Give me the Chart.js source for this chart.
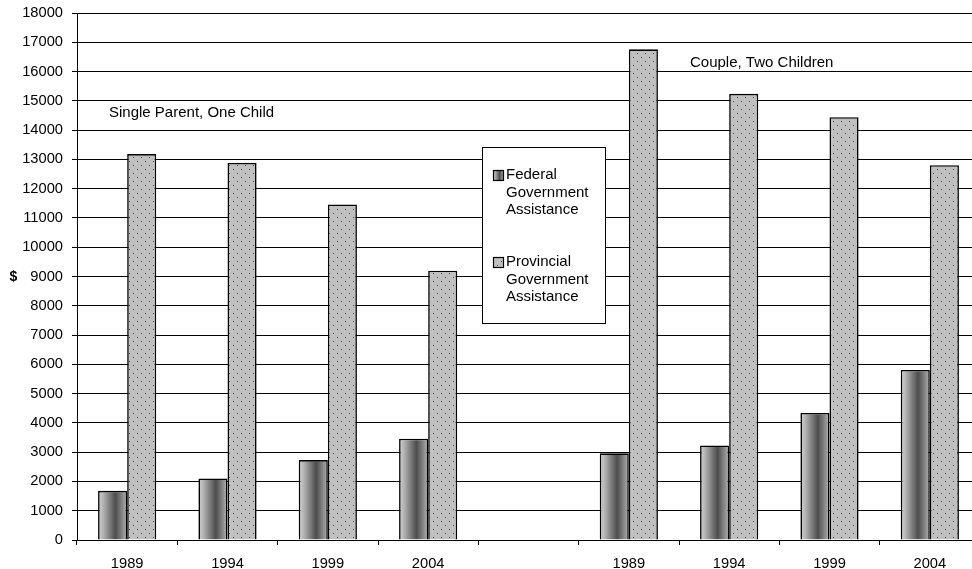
<!DOCTYPE html>
<html>
<head>
<meta charset="utf-8">
<script src="https://cdn.jsdelivr.net/npm/chart.js@4/dist/chart.umd.min.js"></script>
<style>
  html, body { margin: 0; padding: 0; background: #fff; overflow: hidden; }
  canvas { display: block; }
</style>
</head>
<body>
<canvas id="c" width="985" height="569"></canvas>
<script>
// Annual assistance by household type and year
const categories = ['1989', '1994', '1999', '2004', '', '1989', '1994', '1999', '2004'];
const federal    = [1680, 2100, 2730, 3460, null, 2960, 3230, 4340, 5810];
const provincial = [13180, 12880, 11460, 9200, null, 16760, 15240, 14440, 12800];
const seriesLines = [
  ['Federal', 'Government', 'Assistance'],
  ['Provincial', 'Government', 'Assistance']
];
const groupLabels = ['Single Parent, One Child', 'Couple, Two Children'];
const yTitle = '$';
const yMin = 0, yMax = 18000, yStep = 1000;

const FONT = '"Liberation Sans", Arial, Helvetica, sans-serif';
const CAT_PCT = 0.58;

// Dotted grey fill for the provincial bars
function dotPattern(ctx) {
  const t = document.createElement('canvas');
  t.width = 8; t.height = 8;
  const g = t.getContext('2d');
  g.fillStyle = '#c0c0c0';
  g.fillRect(0, 0, 8, 8);
  g.fillStyle = '#8b1a8b';
  g.fillRect(1, 1, 1, 1);
  g.fillRect(5, 5, 1, 1);
  return ctx.createPattern(t, 'repeat');
}

// Shaded cylinder-like gradient for the federal bars
function shade(ctx, x0, x1) {
  const g = ctx.createLinearGradient(x0, 0, x1, 0);
  g.addColorStop(0, '#d0d0d0');
  g.addColorStop(0.15, '#b8b8b8');
  g.addColorStop(0.6, '#4d4d4d');
  g.addColorStop(0.85, '#8c8c8c');
  g.addColorStop(1, '#b4b4b4');
  return g;
}

function federalFill(c) {
  const chart = c.chart;
  const xs = chart.scales && chart.scales.x;
  if (!xs || c.dataIndex === undefined || !xs.width) return '#808080';
  const slot = xs.width / categories.length;
  const w = slot * CAT_PCT / 2;
  const cx = xs.getPixelForValue(c.dataIndex) - w / 2;
  return shade(chart.ctx, cx - w / 2, cx + w / 2);
}

const canvas = document.getElementById('c');
const ctx2d = canvas.getContext('2d');
const dots = dotPattern(ctx2d);

const overlay = {
  id: 'overlay',
  afterDraw(chart) {
    const ctx = chart.ctx;
    const area = chart.chartArea;
    ctx.save();
    ctx.fillStyle = '#000';
    ctx.textBaseline = 'middle';
    ctx.textAlign = 'left';

    // group captions
    ctx.font = '15px ' + FONT;
    ctx.fillText(groupLabels[0], 109, 113);
    ctx.fillText(groupLabels[1], 690, 63);

    // axis unit
    ctx.font = 'bold 14px ' + FONT;
    ctx.textAlign = 'center';
    ctx.fillText(yTitle, 13.5, (area.top + area.bottom) / 2 + 1);

    // legend box
    const bx = 482, by = 147, bw = 123, bh = 176;
    ctx.fillStyle = '#fff';
    ctx.fillRect(bx, by, bw, bh);
    ctx.strokeStyle = '#000';
    ctx.lineWidth = 1;
    ctx.strokeRect(bx + 0.5, by + 0.5, bw, bh);

    ctx.font = '15px ' + FONT;
    ctx.textAlign = 'left';
    const rows = [175, 262];
    const lh = 17.4;
    rows.forEach((ry, k) => {
      const sx = 493, sy = Math.round(ry - 5), ss = 11;
      ctx.fillStyle = k === 0 ? shade(ctx, sx, sx + ss) : dots;
      ctx.fillRect(sx, sy, ss, ss);
      ctx.strokeStyle = '#000';
      ctx.lineWidth = 1.2;
      ctx.strokeRect(sx + 0.5, sy + 0.5, ss - 1, ss - 1);
      ctx.fillStyle = '#000';
      seriesLines[k].forEach((t, j) => ctx.fillText(t, 506, ry + j * lh));
    });
    ctx.restore();
  }
};

Chart.defaults.font.family = FONT;
Chart.defaults.color = '#000';

new Chart(canvas, {
  type: 'bar',
  data: {
    labels: categories,
    datasets: [
      {
        label: seriesLines[0].join(' '),
        data: federal,
        backgroundColor: federalFill,
        borderColor: '#000',
        borderWidth: 1.6,
        categoryPercentage: CAT_PCT,
        barPercentage: 1
      },
      {
        label: seriesLines[1].join(' '),
        data: provincial,
        backgroundColor: dots,
        borderColor: '#000',
        borderWidth: 1.6,
        categoryPercentage: CAT_PCT,
        barPercentage: 1
      }
    ]
  },
  options: {
    responsive: false,
    animation: false,
    devicePixelRatio: 1,
    layout: { padding: { top: 13, right: 5, bottom: 0, left: 0 } },
    plugins: {
      legend: { display: false },
      tooltip: { enabled: false },
      title: { display: false }
    },
    scales: {
      x: {
        grid: {
          display: true,
          offset: true,
          drawOnChartArea: false,
          drawTicks: true,
          tickLength: 5,
          color: '#000',
          lineWidth: 1
        },
        border: { display: true, color: '#000', width: 1 },
        ticks: {
          font: { size: 14.7 },
          color: '#000',
          padding: 10,
          maxRotation: 0,
          autoSkip: false
        },
        afterFit(s) {
          s.height = 29;
          s.paddingLeft = 0; s.paddingRight = 0;
        }
      },
      y: {
        min: yMin,
        max: yMax,
        grid: {
          color: '#000',
          lineWidth: 1,
          drawTicks: true,
          tickLength: 5
        },
        border: { display: true, color: '#000', width: 1 },
        ticks: {
          stepSize: yStep,
          font: { size: 14.7 },
          color: '#000',
          padding: 9,
          callback: v => String(v)
        },
        afterFit(s) {
          s.width = 77;
          s.paddingTop = 0; s.paddingBottom = 0;
        }
      }
    }
  },
  plugins: [overlay]
});
</script>
</body>
</html>
